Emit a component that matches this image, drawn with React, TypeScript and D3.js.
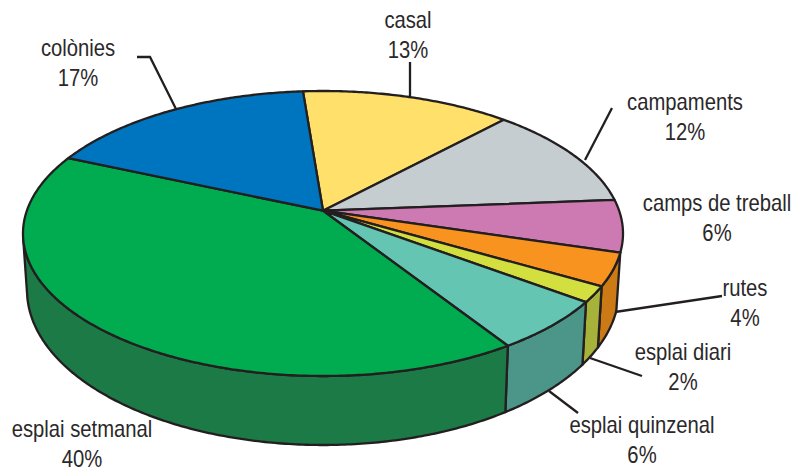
import React from "react";
import * as d3 from "d3";

// Data, clockwise from the top of the pie
const categories = ["casal", "campaments", "camps de treball", "rutes", "esplai diari", "esplai quinzenal", "esplai setmanal", "colònies"];
const values = [13.2, 11.8, 5.9, 3.7, 1.8, 5.77, 40.68, 17.15];
const percentLabels = ["13%", "12%", "6%", "4%", "2%", "6%", "40%", "17%"];
const topColors = ["#ffe06a", "#c5cdd0", "#cd7ab2", "#f8931f", "#d2df3f", "#63c5b2", "#00ac4f", "#0075bf"];
const wallColors = [null, null, null, "#cc7a16", "#a7b23a", "#4b9589", "#1c7a46", null];
const labelX = [408, 685, 717, 745, 683, 642, 82, 78];
const labelY = [28, 110, 211, 296, 360, 433, 437, 56];

const INK = "#231f20";
const top = { cx: 323, cy: 233.5, rx: 300, ry: 142.5 };
const bottom = { cx: 323, cy: 290, rx: 296, ry: 155 };
const apexShift = -0.16; // where the pie's centre falls inside the tilted ellipse
const startAngle = (-4.5 * Math.PI) / 180;

// Perspective: a point of the unit circle -> a point of the unit circle seen in tilt
function project(a: number): [number, number] {
  const x = Math.sin(a);
  const y = -Math.cos(a);
  const d = 1 + apexShift * y;
  return [(x * Math.sqrt(1 - apexShift * apexShift)) / d, (y + apexShift) / d];
}
const onTop = ([u, v]: [number, number]): [number, number] => [top.cx + top.rx * u, top.cy + top.ry * v];
const onBottom = ([u, v]: [number, number]): [number, number] => [bottom.cx + bottom.rx * u, bottom.cy + bottom.ry * v];

const arcs = d3
  .pie<number>()
  .sort(null)
  .startAngle(startAngle)
  .endAngle(startAngle + 2 * Math.PI)(values);

const line = d3.line();

function samples(a0: number, a1: number): [number, number][] {
  const n = Math.max(2, Math.ceil((a1 - a0) / 0.01));
  return d3.range(n + 1).map((i) => project(a0 + ((a1 - a0) * i) / n));
}

const leaders: [number, number][][] = [
  [[410, 62], [410, 97]],
  [[612, 108], [585, 160]],
  [[722, 296], [615, 312]],
  [[642, 376], [590, 358]],
  [[578, 413], [549, 391]],
  [[137, 57], [150, 57], [176, 109]],
];

const TEXT_SCALE = 0.88;

export default function App() {
  const apex = onTop([0, apexShift]);
  return (
    <svg
      width={795}
      height={472}
      viewBox="0 0 795 472"
      style={{ position: "absolute", left: 0, top: 0, background: "#fff" }}
    >
      {arcs.map((arc, i) => {
        const col = wallColors[i];
        if (!col) return null;
        const pts = samples(arc.startAngle, arc.endAngle).filter((p) => p[1] >= 0.015);
        const outline = [...pts.map(onTop), ...pts.slice().reverse().map(onBottom)];
        return <path key={i} d={line(outline) + "Z"} fill={col} stroke={INK} strokeWidth={2.3} strokeLinejoin="round" />;
      })}
      {arcs.map((arc, i) => {
        const outline = [apex, ...samples(arc.startAngle, arc.endAngle).map(onTop)];
        return <path key={i} d={line(outline) + "Z"} fill={topColors[i]} stroke={INK} strokeWidth={2.3} strokeLinejoin="round" />;
      })}
      {leaders.map((l, i) => (
        <path key={i} d={line(l) ?? ""} fill="none" stroke={INK} strokeWidth={2.3} />
      ))}
      <g fontFamily="'Liberation Sans', sans-serif" fontSize={23} fill="#2b2829" textAnchor="middle">
        {categories.map((c, i) => (
          <g key={c} transform={`translate(${labelX[i]},0) scale(${TEXT_SCALE},1)`}>
            <text x={0} y={labelY[i]}>{c}</text>
            <text x={0} y={labelY[i] + 30}>{percentLabels[i]}</text>
          </g>
        ))}
      </g>
    </svg>
  );
}
